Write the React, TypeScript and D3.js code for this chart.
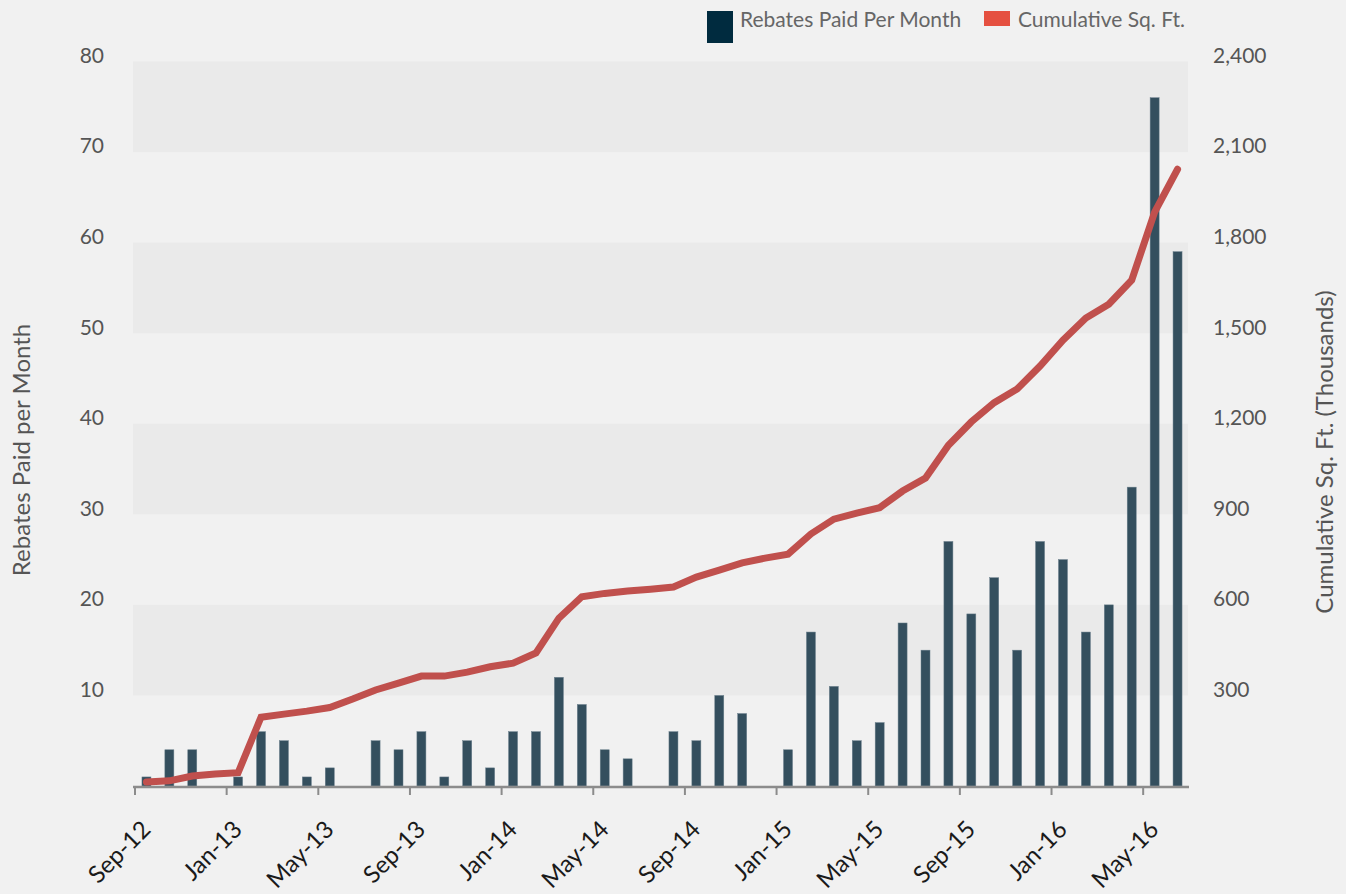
import React, { useEffect } from "react";
import * as d3 from "d3";

const months = [
  "Sep-12","Oct-12","Nov-12","Dec-12","Jan-13","Feb-13","Mar-13","Apr-13","May-13","Jun-13","Jul-13","Aug-13",
  "Sep-13","Oct-13","Nov-13","Dec-13","Jan-14","Feb-14","Mar-14","Apr-14","May-14","Jun-14","Jul-14","Aug-14",
  "Sep-14","Oct-14","Nov-14","Dec-14","Jan-15","Feb-15","Mar-15","Apr-15","May-15","Jun-15","Jul-15","Aug-15",
  "Sep-15","Oct-15","Nov-15","Dec-15","Jan-16","Feb-16","Mar-16","Apr-16","May-16","Jun-16",
];

const rebates = [
  1, 4, 4, 0, 1, 6, 5, 1, 2, 0, 5, 4,
  6, 1, 5, 2, 6, 6, 12, 9, 4, 3, 0, 6,
  5, 10, 8, 0, 4, 17, 11, 5, 7, 18, 15, 27,
  19, 23, 15, 27, 25, 17, 20, 33, 76, 59,
];

const cumulativeSqFt = [
  13, 17, 33, 40, 44, 228, 238, 248, 260, 288, 318, 341,
  364, 364, 377, 395, 407, 441, 556, 627, 638, 646, 652, 659,
  692, 715, 739, 755, 768, 835, 884, 904, 922, 977, 1020, 1129,
  1206, 1270, 1315, 1391, 1477, 1550, 1596, 1676, 1901, 2043,
];

const leftTicks = [10, 20, 30, 40, 50, 60, 70, 80];
const rightTicks = [300, 600, 900, 1200, 1500, 1800, 2100, 2400];
const bandStarts = [0, 20, 40, 60];

const W = 1346;
const H = 894;
const FONT = "Lato, 'Open Sans', sans-serif";

export default function App() {
  useEffect(() => {
    document.body.style.margin = "0";
    document.body.style.background = "#f1f1f1";
  }, []);

  const x = d3.scaleBand<string>().domain(months).range([135, 1189]).paddingInner(0).paddingOuter(0);
  const yL = d3.scaleLinear().domain([0, 80]).range([786, 61.5]);
  const yR = d3.scaleLinear().domain([0, 2400]).range([786, 61.5]);
  const step = x.step();
  const barW = 9;

  const line = d3
    .line<number>()
    .x((_, i) => (x(months[i]) as number) + step / 2)
    .y((d) => yR(d));

  const tickMonths = months.filter((_, i) => i % 4 === 0);

  return (
    <svg width={W} height={H} style={{ display: "block", background: "#f1f1f1" }} fontFamily={FONT}>
      <rect x={0} y={0} width={W} height={H} fill="#f1f1f1" />
      {bandStarts.map((b) => (
        <rect key={b} x={133} width={1188 - 133} y={yL(b + 20)} height={yL(b + 10) - yL(b + 20)} fill="#eaeaea" />
      ))}

      {rebates.map((v, i) =>
        v > 0 ? (
          <rect
            key={i}
            x={(x(months[i]) as number) + step / 2 - barW / 2}
            y={yL(v)}
            width={barW}
            height={yL(0) - yL(v)}
            fill="#344f5e"
            stroke="#6a7f8b"
            strokeWidth={0.5}
          />
        ) : null
      )}

      <line x1={133} x2={1189} y1={787} y2={787} stroke="#8c8c8c" strokeWidth={2.5} />
      {tickMonths.map((m) => (
        <line key={m} x1={x(m) as number} x2={x(m) as number} y1={787} y2={795} stroke="#8c8c8c" strokeWidth={2} />
      ))}
      {tickMonths.map((m) => {
        const tx = (x(m) as number) + 17;
        const ty = 831;
        return (
          <text
            key={m}
            transform={`translate(${tx},${ty}) rotate(-45)`}
            textAnchor="end"
            fontSize={24}
            fill="#1a1a1a"
          >
            {m}
          </text>
        );
      })}

      <path d={line(cumulativeSqFt) || ""} fill="none" stroke="#c0504d" strokeWidth={7} strokeLinecap="round" strokeLinejoin="miter" />

      {leftTicks.map((t) => (
        <text key={t} x={104} y={yL(t) - 4} textAnchor="end" dominantBaseline="middle" fontSize={21} fill="#555">
          {t}
        </text>
      ))}
      {rightTicks.map((t) => (
        <text key={t} x={1213} y={yR(t) - 4} textAnchor="start" dominantBaseline="middle" fontSize={21} fill="#555">
          {d3.format(",")(t)}
        </text>
      ))}

      <text transform="translate(30,450) rotate(-90)" textAnchor="middle" fontSize={24} fill="#555">
        Rebates Paid per Month
      </text>
      <text transform="translate(1333,452) rotate(-90)" textAnchor="middle" fontSize={24} fill="#555">
        Cumulative Sq. Ft. (Thousands)
      </text>

      <rect x={707} y={11} width={26} height={32} fill="#002b3f" />
      <text x={740} y={27} fontSize={21} fill="#666">Rebates Paid Per Month</text>
      <rect x={984} y={11} width={26} height={15} fill="#e55040" />
      <text x={1018} y={27} fontSize={21} fill="#666">Cumulative Sq. Ft.</text>
    </svg>
  );
}
